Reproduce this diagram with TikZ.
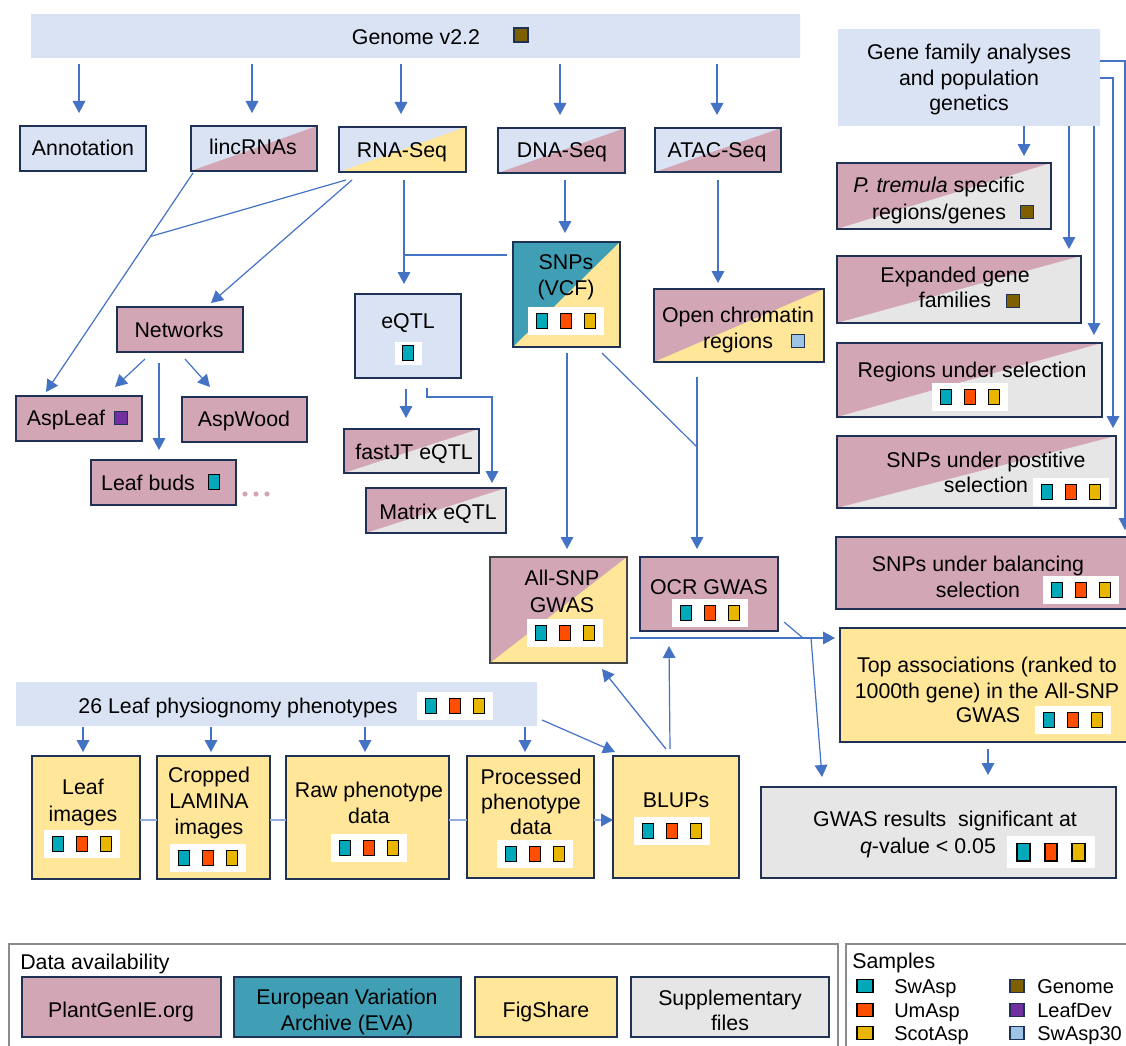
\documentclass[tikz,border=0pt]{standalone}
\usepackage{fontspec}
\setmainfont{Liberation Sans}
\usetikzlibrary{arrows.meta,fit,calc}
\definecolor{cLB}{HTML}{DAE3F3}
\definecolor{cPK}{HTML}{D3A6B5}
\definecolor{cYL}{HTML}{FFE699}
\definecolor{cTL}{HTML}{409FB5}
\definecolor{cGY}{HTML}{E6E6E6}
\definecolor{cNV}{HTML}{1F3154}
\definecolor{cAB}{HTML}{4472C4}
\definecolor{cAL}{HTML}{8FAADC}
\definecolor{cSW}{HTML}{00A8BA}
\definecolor{cUM}{HTML}{FF4E00}
\definecolor{cSC}{HTML}{E8B600}
\definecolor{cGN}{HTML}{7F6000}
\definecolor{cLD}{HTML}{7030A0}
\definecolor{cS30}{HTML}{9DC3E6}
\definecolor{cGR}{HTML}{8C8C8C}
\definecolor{cDG}{HTML}{454545}
\tikzset{
  bd/.style={draw=cNV, line width=1.8pt},
  fitn/.style={inner sep=0pt, outer sep=0pt},
  tx/.style={anchor=base, yshift=-5.7pt, inner sep=0pt, font=\fontsize{16}{19}\selectfont},
  txw/.style={tx, anchor=base west},
  txs/.style={txw, font=\fontsize{15}{18}\selectfont},
  arr/.style={draw=cAB, line width=0.9pt, -{Triangle[length=9pt,width=9.5pt]}},
  ln/.style={draw=cAB, line width=0.9pt},
  lnl/.style={draw=cAL, line width=1.3pt},
}
% name, x1, y1, x2, y2, colA (upper left), colB (lower right), border
\newcommand\dbox[8]{%
  \fill[#6] (#2,#3) rectangle (#4,#5);
  \fill[#7] (#2,#5) -- (#4,#3) -- (#4,#5) -- cycle;
  \node[fitn, fit={(#2,#3) (#4,#5)}, #8] (#1) {};
}
\newcommand\ico[4][1]{\filldraw[fill=#4, draw=black, line width=1.3pt] (#2-5.5*#1,#3-7.5*#1) rectangle (#2+5.5*#1,#3+7.5*#1);}
\newcommand\trio[3][1]{%
  \fill[white] (#2-38*#1,#3-14*#1) rectangle (#2+38*#1,#3+14*#1);
  \ico[#1]{#2-24*#1}{#3}{cSW}\ico[#1]{#2}{#3}{cUM}\ico[#1]{#2+24*#1}{#3}{cSC}}
\newcommand\sqn[3]{\filldraw[fill=#3, draw=cNV, line width=1.4pt] (#1-6.5,#2-6.5) rectangle (#1+6.5,#2+6.5);}
\begin{document}
\begin{tikzpicture}[x=0.75pt,y=-0.75pt]
\useasboundingbox (0,0) rectangle (1126,1045);
\clip (0,0) rectangle (1126,1045);
\fill[white] (0,0) rectangle (1126,1045);

% ---------- boxes ----------
\dbox{genome}{31}{14}{800}{58}{cLB}{cLB}{}
\dbox{annot}{20}{126}{146}{171}{cLB}{cLB}{bd}
\dbox{linc}{191}{126}{317}{171}{cLB}{cPK}{bd}
\dbox{rna}{339}{127}{466}{172}{cLB}{cYL}{bd}
\dbox{dna}{498}{128}{625}{173}{cLB}{cPK}{bd}
\dbox{atac}{655}{128}{781}{172}{cLB}{cPK}{bd}
\dbox{gfa}{838}{29}{1100}{126}{cLB}{cLB}{}
\dbox{ptrem}{837}{163}{1051}{229}{cPK}{cGY}{bd}
\dbox{expand}{837}{256}{1081}{323}{cPK}{cGY}{bd}
\dbox{regsel}{837}{343}{1102}{417}{cPK}{cGY}{bd}
\dbox{possel}{837}{436}{1116}{508}{cPK}{cGY}{bd}
\dbox{balsel}{836}{537}{1140}{609}{cPK}{cPK}{bd}
\dbox{netw}{117}{307}{243}{352}{cPK}{cPK}{bd}
\dbox{aspleaf}{16}{396}{142}{441}{cPK}{cPK}{bd}
\dbox{aspwood}{182}{397}{307}{442}{cPK}{cPK}{bd}
\dbox{leafbuds}{91}{460}{236}{505}{cPK}{cPK}{bd}
\dbox{eqtl}{355}{294}{461}{378}{cLB}{cLB}{bd}
\dbox{fastjt}{344}{429}{479}{473}{cPK}{cGY}{bd}
\dbox{matrix}{366}{488}{506}{533}{cPK}{cGY}{bd}
\dbox{snps}{513}{242}{620}{347}{cTL}{cYL}{bd}
\dbox{ocr}{654}{289}{824}{362}{cPK}{cYL}{bd}
\dbox{allsnp}{490}{557}{627}{663}{cPK}{cYL}{draw=cDG, line width=1.8pt}
\dbox{ocrgwas}{640}{557}{778}{631}{cPK}{cPK}{bd}
\dbox{topassoc}{840}{628}{1140}{742}{cYL}{cYL}{bd}
\dbox{gwasres}{761}{787}{1116}{878}{cGY}{cGY}{bd}
\dbox{pheno}{16}{682}{537}{726}{cLB}{cLB}{}
\dbox{leafimg}{32}{756}{140}{879}{cYL}{cYL}{bd}
\dbox{cropped}{157}{756}{270}{879}{cYL}{cYL}{bd}
\dbox{raw}{286}{756}{449}{879}{cYL}{cYL}{bd}
\dbox{proc}{467}{756}{594}{878}{cYL}{cYL}{bd}
\dbox{blups}{613}{756}{739}{878}{cYL}{cYL}{bd}

% ---------- texts and icons ----------
\node[tx] (genome-t) at (416,37) {Genome v2.2};
\filldraw[fill=cGN, draw=cNV, line width=1.4pt] (514,28) rectangle (528,42);
\node[tx] (annot-t) at (83,148) {Annotation};
\node[tx] (linc-t) at (253,147) {lincRNAs};
\node[tx] (rna-t) at (402,150) {RNA-Seq};
\node[tx] (dna-t) at (562,150) {DNA-Seq};
\node[tx] (atac-t) at (717,150) {ATAC-Seq};
\node[tx] (gfa-t1) at (969,52) {Gene family analyses};
\node[tx] (gfa-t2) at (969,78) {and population};
\node[tx] (gfa-t3) at (969,103) {genetics};
\node[tx] (ptrem-t1) at (939,185) {\textit{P. tremula} specific};
\node[tx] (ptrem-t2) at (939,212) {regions/genes};
\sqn{1027}{212}{cGN}
\node[tx] (expand-t1) at (955,275) {Expanded gene};
\node[tx] (expand-t2) at (955,300) {families};
\sqn{1013}{301}{cGN}
\node[tx] (regsel-t) at (972,370) {Regions under selection};
\trio{970}{397}
\node[tx] (possel-t1) at (986,460) {SNPs under postitive};
\node[tx] (possel-t2) at (986,485) {selection};
\trio{1071}{492}
\node[tx] (balsel-t1) at (978,564) {SNPs under balancing};
\node[tx] (balsel-t2) at (978,590) {selection};
\trio{1081}{590}
\node[tx] (netw-t) at (179,330) {Networks};
\node[tx] (aspleaf-t) at (66,418) {AspLeaf};
\sqn{121}{418}{cLD}
\node[tx] (aspwood-t) at (244,419) {AspWood};
\node[tx] (leafbuds-t) at (148,483) {Leaf buds};
\ico{214}{482}{cSW}
\foreach \dx in {245,256,267} \fill[cPK] (\dx,494) circle (2.6);
\node[tx] (eqtl-t) at (408,321) {eQTL};
\fill[white] (395,342) rectangle (422,365);
\ico{408}{353}{cSW}
\node[tx] (snps-t1) at (566,262) {SNPs};
\node[tx] (snps-t2) at (566,288) {(VCF)};
\trio{566}{321}
\node[tx] (ocr-t1) at (738,315) {Open chromatin};
\node[tx] (ocr-t2) at (738,341) {regions};
\sqn{798}{341}{cS30}
\node[tx] (fastjt-t) at (414,452) {fastJT eQTL};
\node[tx] (matrix-t) at (438,512) {Matrix eQTL};
\node[tx] (allsnp-t1) at (562,578) {All-SNP};
\node[tx] (allsnp-t2) at (562,605) {GWAS};
\trio{565}{633}
\node[tx] (ocrgwas-t) at (709,587) {OCR GWAS};
\trio{710}{613}
\node[tx] (top-t1) at (987,665) {Top associations (ranked to};
\node[tx] (top-t2) at (987,691) {1000th gene) in the All-SNP};
\node[tx] (top-t3) at (988,715) {GWAS};
\trio{1073}{720}
\node[tx] (gwasres-t1) at (945,819) {GWAS results~ significant at};
\node[tx] (gwasres-t2) at (928,846) {\textit{q}-value < 0.05};
\trio[1.15]{1051}{852}
\node[tx] (pheno-t) at (238,706) {26 Leaf physiognomy phenotypes};
\trio{455}{706}
\node[tx] (leafimg-t1) at (83,787) {Leaf};
\node[tx] (leafimg-t2) at (83,814) {images};
\trio{82}{844}
\node[tx] (cropped-t1) at (209,775) {Cropped};
\node[tx] (cropped-t2) at (209,801) {LAMINA};
\node[tx] (cropped-t3) at (209,827) {images};
\trio{208}{858}
\node[tx] (raw-t1) at (369,790) {Raw phenotype};
\node[tx] (raw-t2) at (369,816) {data};
\trio{369}{848}
\node[tx] (proc-t1) at (531,777) {Processed};
\node[tx] (proc-t2) at (531,802) {phenotype};
\node[tx] (proc-t3) at (531,827) {data};
\trio{535}{854}
\node[tx] (blups-t) at (676,800) {BLUPs};
\trio{672}{831}

% ---------- connectors ----------
\foreach \x/\n in {79/annot,252/linc,401/rna,560/dna,717/atac}
  \draw[arr, shorten <=4.5pt, shorten >=9.75pt] (\x,0 |- genome.south) -- (\x,0 |- \n.north);
\coordinate (a1) at ($(linc.south west)+(2,2)$);
\coordinate (a2) at ($(aspleaf.north west)+(30,-4)$);
\coordinate (j1) at ($(a1)!0.29!(a2)$);
\draw[arr] (a1) -- (a2);
\draw[ln] ($(rna.south west)+(7,8)$) -- (j1);
\draw[arr] ($(rna.south west)+(13,8)$) -- ($(netw.north)+(31,-4)$);
\draw[arr] ($(netw.south)+(-35,7)$) -- ($(aspleaf.north east)+(-27,-9)$);
\draw[arr] ($(netw.south)+(-21,11)$) -- ($(leafbuds.north west)+(68,-10)$);
\draw[arr] ($(netw.south)+(5,7)$) -- ($(aspwood.north west)+(28,-10)$);
\draw[arr, shorten <=6pt, shorten >=7.5pt] (404,0 |- rna.south) -- (404,0 |- eqtl.north);
\coordinate (j2) at (404,255);
\draw[ln] ($(snps.north west)+(-6,13)$) -- (j2);
\draw[arr, shorten <=5.25pt, shorten >=6.75pt] (565,0 |- dna.south) -- (565,0 |- snps.north);
\draw[arr, shorten <=6pt, shorten >=4.5pt] (718,0 |- atac.south) -- (718,0 |- ocr.north);
\draw[arr, shorten <=4.5pt, shorten >=6pt] (567,0 |- snps.south) -- (567,0 |- allsnp.north);
\coordinate (j3) at (697,447);
\draw[ln] ($(snps.south east)+(-18,6)$) -- (j3);
\draw[arr, shorten <=11.25pt, shorten >=6pt] (697,0 |- ocr.south) -- (697,0 |- ocrgwas.north);
\draw[arr, shorten <=8.25pt, shorten >=8.25pt] (406,0 |- eqtl.south) -- (406,0 |- fastjt.north);
\draw[arr] ($(eqtl.south west)+(72,10)$) -- ++(0,9) -| ($(matrix.north west)+(126,-5)$);
\draw[arr, shorten >=5.25pt] (1024,0 |- gfa.south) -- (1024,0 |- ptrem.north);
\draw[arr, shorten >=5.25pt] (1069,0 |- gfa.south) -- (1069,0 |- expand.north);
\draw[arr, shorten >=6pt] (1094,0 |- gfa.south) -- (1094,0 |- regsel.north);
\draw[arr] ($(gfa.north east)+(0,49)$) -- ++(13,0) -- ($(possel.north east)+(-3,-8)$);
\draw[arr] ($(gfa.north east)+(0,32)$) -- ++(25,0) -- ($(balsel.north west)+(289,-7)$);
\draw[arr] ($(allsnp.north east)+(3,81)$) -- ($(topassoc.north west)+(-5,10)$);
\coordinate (j4) at (803,638);
\coordinate (j5) at (811,638);
\draw[ln] ($(ocrgwas.south east)+(6,-9)$) -- (j4);
\draw[arr] (j5) -- ($(gwasres.north west)+(61,-10)$);
\draw[arr, shorten <=5.25pt, shorten >=9pt] (988,0 |- topassoc.south) -- (988,0 |- gwasres.north);
\foreach \x/\n in {83/leafimg,211/cropped,365/raw,525/proc}
  \draw[arr, shorten <=0.75pt, shorten >=3pt] (\x,0 |- pheno.south) -- (\x,0 |- \n.north);
\draw[arr] ($(pheno.south east)+(5,-6)$) -- ($(blups.north west)+(2,-4)$);
\draw[arr] ($(blups.north)+(-10,-7)$) -- ($(allsnp.south east)+(-25,6)$);
\draw[arr] ($(blups.north)+(-6,-7)$) -- ($(ocrgwas.south)+(-40,15)$);
\draw[lnl] (leafimg.east |- 0,820) -- (cropped.west |- 0,820);
\draw[lnl] (cropped.east |- 0,820) -- (raw.west |- 0,820);
\draw[lnl] (raw.east |- 0,820) -- (proc.west |- 0,820);
\draw[lnl, -{Triangle[length=9pt,width=9.5pt,color=cAB]}] (proc.east |- 0,820) -- (blups.west |- 0,820);

% ---------- legend ----------
\node[fitn, fit={(9,944) (838,1070)}, draw=cGR, line width=1.5pt] (dframe) {};
\node[fitn, fit={(846,944) (1140,1070)}, draw=cGR, line width=1.5pt] (sframe) {};
\node[txw] (dframe-t) at (20,962) {Data availability};
\dbox{plantgenie}{22}{977}{221}{1037}{cPK}{cPK}{bd}
\dbox{eva}{234}{977}{461}{1037}{cTL}{cTL}{bd}
\dbox{figshare}{475}{977}{617}{1037}{cYL}{cYL}{bd}
\dbox{supp}{631}{977}{829}{1037}{cGY}{cGY}{bd}
\node[tx] (plantgenie-t) at (121,1010) {PlantGenIE.org};
\node[tx] (eva-t1) at (347,997) {European Variation};
\node[tx] (eva-t2) at (347,1023) {Archive (EVA)};
\node[tx] (figshare-t) at (546,1010) {FigShare};
\node[tx] (supp-t1) at (730,998) {Supplementary};
\node[tx] (supp-t2) at (730,1023) {files};
\node[txw] (sframe-t) at (852,961) {Samples};
\foreach \yy/\c/\lab [count=\i] in {986/cSW/SwAsp,1010/cUM/UmAsp,1033/cSC/ScotAsp}{
  \filldraw[fill=\c, draw=black, line width=1.2pt] (857,\yy-6.5) rectangle (873,\yy+6.5);
  \node[txs] (samp-a\i) at (894,\yy) {\lab};
}
\foreach \yy/\c/\lab [count=\i] in {986/cGN/Genome,1010/cLD/LeafDev,1033/cS30/SwAsp30}{
  \filldraw[fill=\c, draw=cNV, line width=1.4pt] (1010,\yy-6.5) rectangle (1024,\yy+6.5);
  \node[txs] (samp-b\i) at (1037,\yy) {\lab};
}
\end{tikzpicture}
\end{document}
